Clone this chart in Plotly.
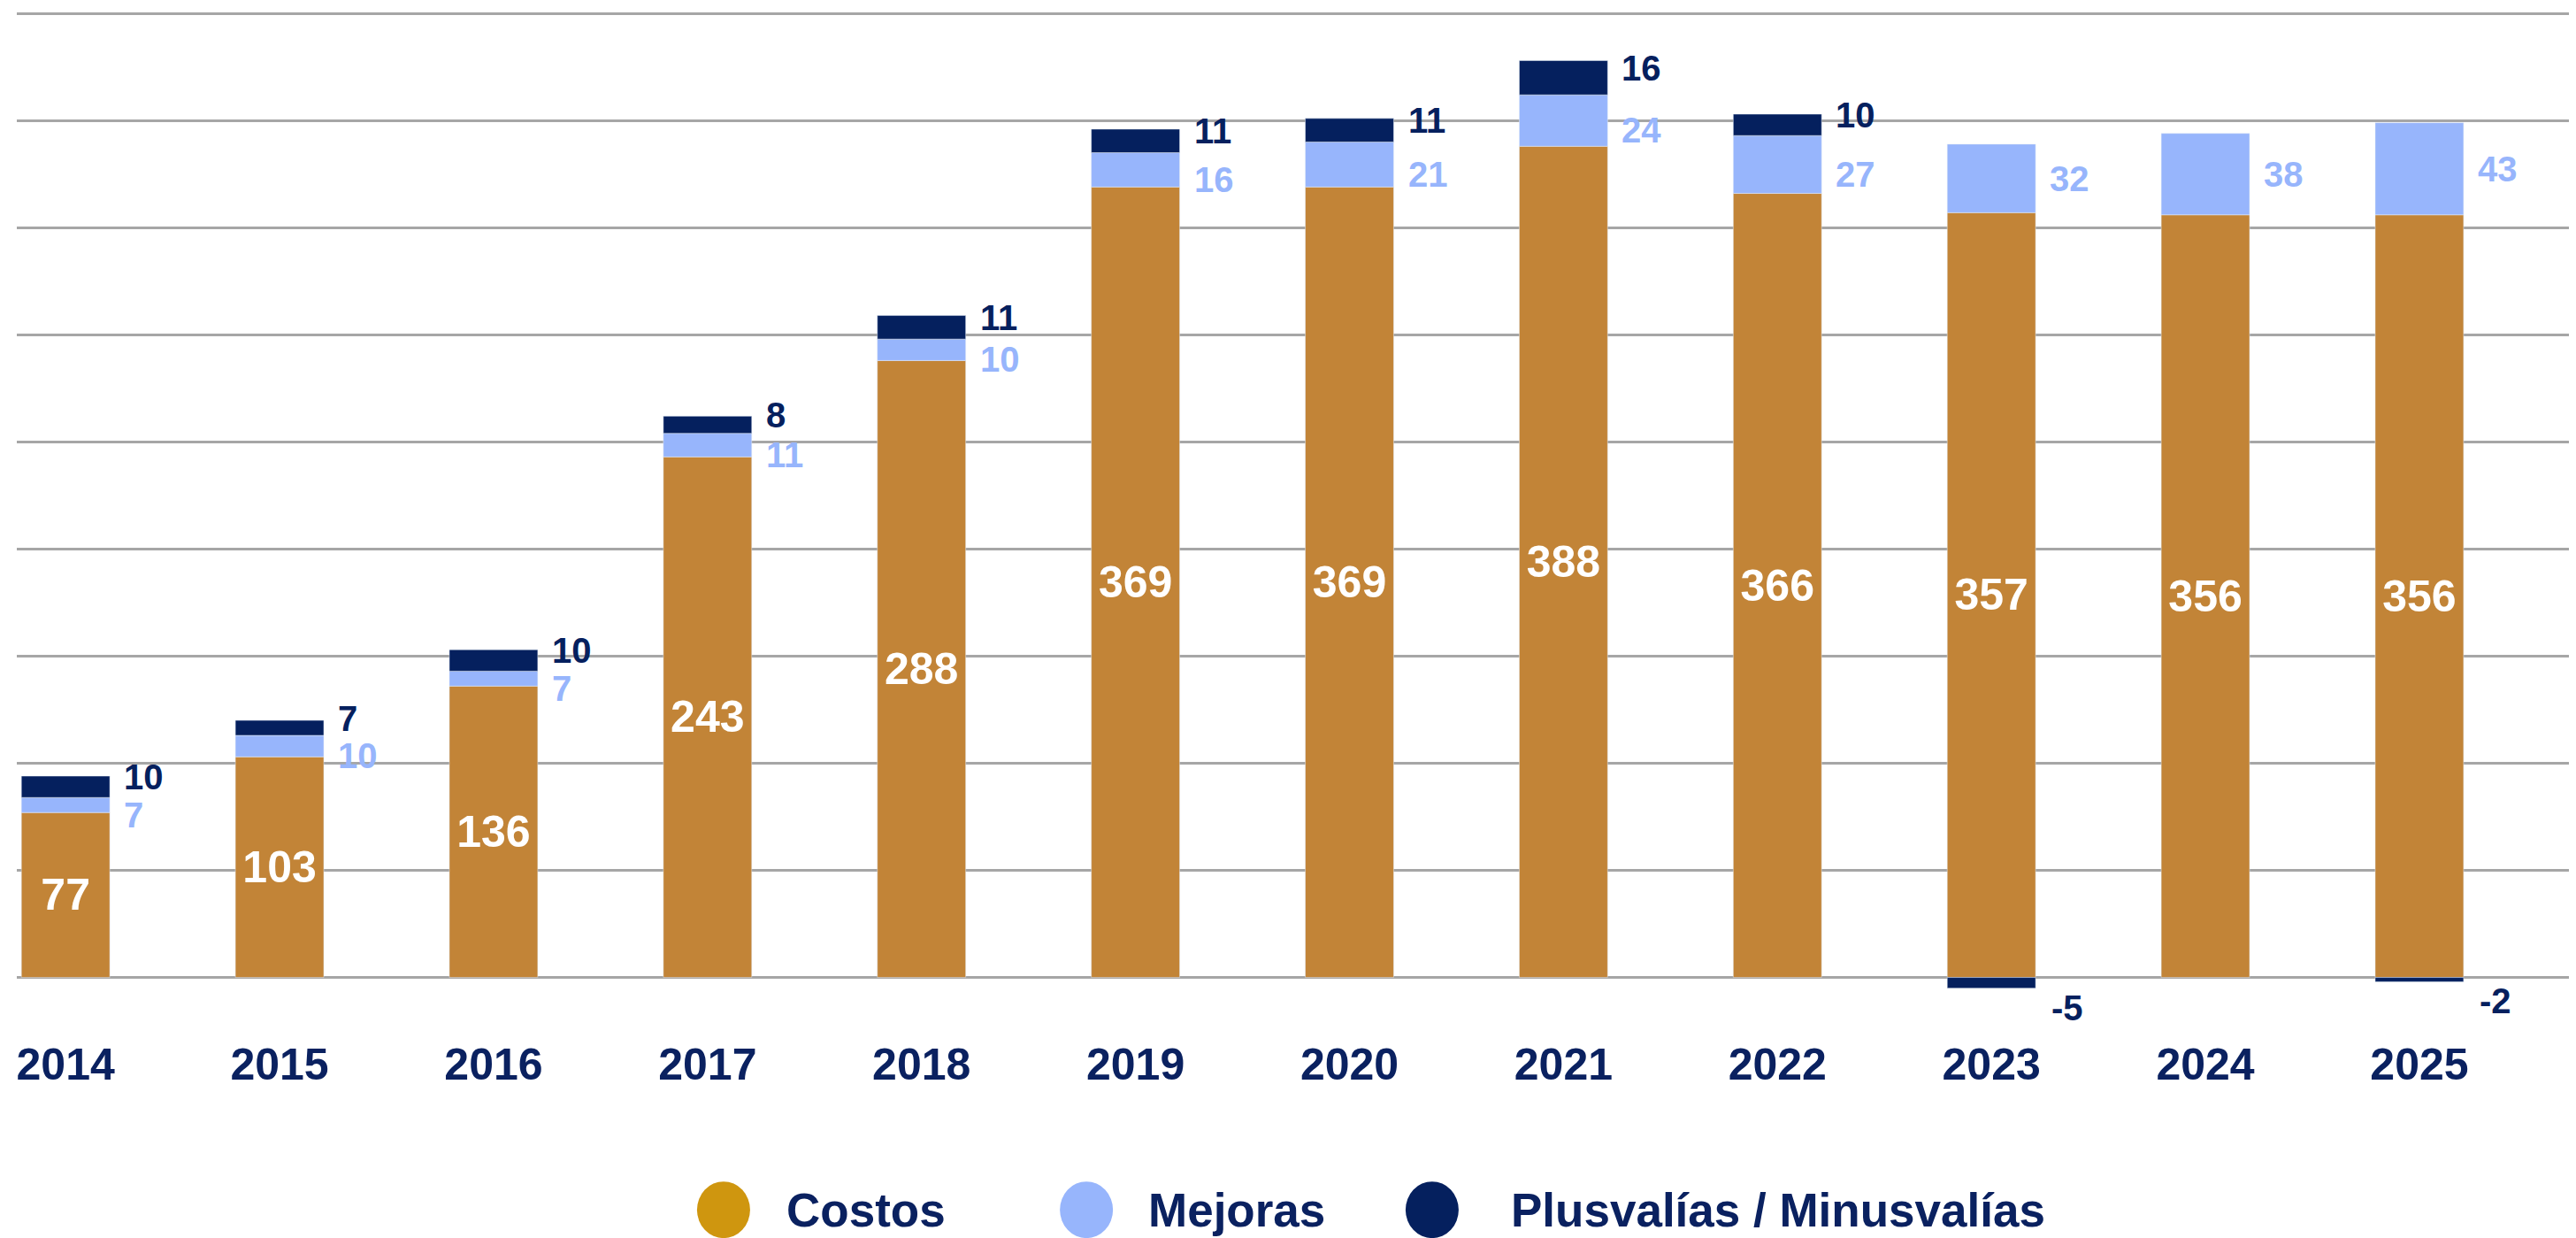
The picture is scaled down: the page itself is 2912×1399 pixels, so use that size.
import plotly.graph_objects as go

years = ['2014', '2015', '2016', '2017', '2018', '2019', '2020', '2021', '2022', '2023', '2024', '2025']
costos = [77, 103, 136, 243, 288, 369, 369, 388, 366, 357, 356, 356]
mejoras = [7, 10, 7, 11, 10, 16, 21, 24, 27, 32, 38, 43]
plusvalias = [10, 7, 10, 8, 11, 11, 11, 16, 10, -5, None, -2]
series_names = ['Costos', 'Mejoras', 'Plusvalías / Minusvalías']

COL_COSTOS = '#c28437'
COL_COSTOS_LEG = '#cf960f'
COL_MEJORAS = '#97b5fc'
COL_PLUS = '#05205e'
NAVY = '#0a2160'
FONT = 'Liberation Sans, Arial, sans-serif'

fig = go.Figure()

fig.add_trace(go.Bar(x=years, y=costos, name=series_names[0],
                     marker_color=COL_COSTOS,
                     text=costos, textposition='inside', insidetextanchor='middle',
                     textangle=0, constraintext='none',
                     textfont=dict(family=FONT, size=50, color='white', weight='bold'),
                     showlegend=False))
fig.add_trace(go.Bar(x=years, y=mejoras, name=series_names[1],
                     marker_color=COL_MEJORAS, showlegend=False))
fig.add_trace(go.Bar(x=years, y=plusvalias, name=series_names[2],
                     marker_color=COL_PLUS, showlegend=False))

# side labels to the right of each bar (x given as category index)
for i, (c, m, p) in enumerate(zip(costos, mejoras, plusvalias)):
    both = p is not None and p > 0
    fig.add_annotation(x=i, y=c + m / 2, text=str(m), showarrow=False,
                       xanchor='left', yanchor='middle', xshift=64,
                       yshift=-11 if both else 0,
                       font=dict(family=FONT, size=40, color=COL_MEJORAS, weight='bold'))
    if p is None:
        continue
    if p > 0:
        fig.add_annotation(x=i, y=c + m + p / 2, text=str(p), showarrow=False,
                           xanchor='left', yanchor='middle', xshift=64, yshift=11,
                           font=dict(family=FONT, size=40, color=COL_PLUS, weight='bold'))
    else:
        fig.add_annotation(x=i, y=p, text=str(p), showarrow=False,
                           xanchor='left', yanchor='top', xshift=66, yshift=2,
                           font=dict(family=FONT, size=40, color=COL_PLUS, weight='bold'))

# custom legend with large circles
leg_cols = [COL_COSTOS_LEG, COL_MEJORAS, COL_PLUS]
leg_x = [0.2754, 0.4168, 0.5515]
leg_gap = [69, 68, 87]
leg_y = -0.188
for name, col, lx, gap in zip(series_names, leg_cols, leg_x, leg_gap):
    fig.add_shape(type='circle', xref='paper', yref='paper',
                  xsizemode='pixel', ysizemode='pixel',
                  xanchor=lx, yanchor=leg_y, x0=-30, x1=30, y0=-32, y1=32,
                  fillcolor=col, line_width=0)
    fig.add_annotation(xref='paper', yref='paper', x=lx, y=leg_y, xshift=gap,
                       text=name, showarrow=False, xanchor='left', yanchor='middle',
                       font=dict(family=FONT, size=53, color=NAVY, weight='bold'))

fig.update_layout(
    barmode='relative',
    bargap=0.587,
    plot_bgcolor='white',
    paper_bgcolor='white',
    width=2912,
    height=1399,
    margin=dict(l=11, r=0, t=6, b=254),
    xaxis=dict(type='category', range=[-0.228, 11.765], showgrid=False, showline=False,
               ticks='', ticklabelstandoff=16,
               tickfont=dict(family=FONT, size=50, color=NAVY, weight='bold')),
    yaxis=dict(range=[-20, 450.5], dtick=50, tick0=0, showticklabels=False,
               gridcolor='#a6a6a6', gridwidth=2.5,
               zeroline=True, zerolinecolor='#a6a6a6', zerolinewidth=2.5),
    showlegend=False,
)

fig.write_html("out.html")
